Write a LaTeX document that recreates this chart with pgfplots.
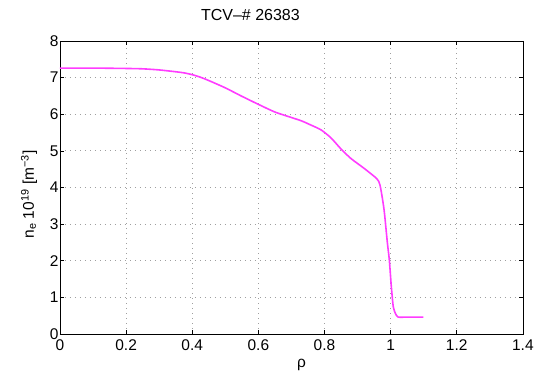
\documentclass[border=0pt]{standalone}
\usepackage{fontspec}
\setmainfont{Liberation Sans}
\usepackage{pgfplots}
\pgfplotsset{compat=1.18}
\definecolor{mag}{RGB}{255,60,255}
\begin{document}
\begin{tikzpicture}[x=1pt,y=1pt]
\begin{axis}[
  scale only axis,
  width=463pt, height=293pt,
  xmin=0, xmax=1.4, ymin=0, ymax=8,
  xtick={0,0.2,...,1.4}, ytick={0,1,...,8},
  xticklabels={0,0.2,0.4,0.6,0.8,1,1.2,1.4},
  grid=major,
  major grid style={dash pattern=on 0.8pt off 4.2pt, gray!75, line width=0.7pt},
  tick align=inside,
  major tick length=4pt,
  axis line style={black, line width=0.8pt},
  tick style={black, line width=0.6pt},
  font=\fontsize{15.5}{17}\selectfont,
  ticklabel style={font=\fontsize{15.5}{17}\selectfont},
  xticklabel style={yshift=-2.5pt},
  yticklabel style={xshift=2pt},
  /pgf/number format/assume math mode=true,
  title={TCV\textendash\# 26383},
  title style={at={(axis description cs:0.5,1)}, anchor=base, yshift=14pt, xshift=-41pt, font=\fontsize{16}{18}\selectfont},
  xlabel={ρ},
  xlabel style={at={(axis description cs:0.5,0)}, anchor=base, yshift=-34pt, xshift=10pt},
  ylabel={n\textsubscript{e} 10\textsuperscript{19} [m\textsuperscript{−3}]},
  ylabel style={at={(axis description cs:0,0.476)}, anchor=center, yshift=31pt},
]
\addplot[mag, line width=1.6pt, smooth, tension=0.4] coordinates {
(0,7.26) (0.1,7.26) (0.2,7.25) (0.25,7.24) (0.3,7.21) (0.35,7.16) (0.375,7.13) (0.4,7.08)
(0.425,7.01) (0.45,6.92) (0.5,6.72) (0.55,6.49) (0.6,6.27) (0.65,6.06) (0.7,5.91) (0.73,5.82)
(0.76,5.70) (0.79,5.57) (0.82,5.35) (0.85,5.05) (0.88,4.79) (0.92,4.52) (0.958,4.24)
(0.968,4.06) (0.98,3.40) (0.99,2.50) (0.996,2.02) (1.002,1.30) (1.008,0.74)
(1.015,0.55) (1.023,0.46) (1.05,0.46) (1.099,0.46)
};
\end{axis}
\useasboundingbox (-60,-40) rectangle (477,334);
\end{tikzpicture}
\end{document}
